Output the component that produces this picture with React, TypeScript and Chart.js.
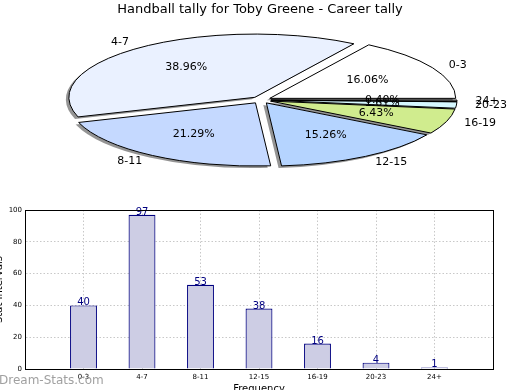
import React, { useEffect, useRef } from "react";
import { Chart, registerables } from "chart.js";

Chart.register(...registerables);

const categories = ["0-3", "4-7", "8-11", "12-15", "16-19", "20-23", "24+"];
const counts = [40, 97, 53, 38, 16, 4, 1];
const yTickValues = [0, 20, 40, 60, 80, 100];
const pieColors = ["#ffffff", "#eaf1ff", "#c5d9ff", "#b5d4ff", "#d0ec8e", "#d6f8ff", "#9a9a9a"];
const chartTitle = "Handball tally for Toby Greene - Career tally";
const xTitle = "Frequency";
const yTitle = "Stat Intervals";
const watermark = "Dream-Stats.com";

const FONT = "DejaVu Sans";
Chart.defaults.font.family = FONT;

// pie geometry (ellipse squash)
const PIE_RADIUS = 186;
const PIE_SQUASH = 0.34;
const PIE_CX = 261;
const PIE_CY = 100;
const EXPLODE = 10;

export default function App() {
  const pieRef = useRef<HTMLCanvasElement | null>(null);
  const barRef = useRef<HTMLCanvasElement | null>(null);

  useEffect(() => {
    const total = counts.reduce((a, b) => a + b, 0);
    const pieLabels = [...categories].reverse();
    const pieData = [...counts].reverse();
    const pieBg = [...pieColors].reverse();

    const mapPt = (chart: any, x: number, y: number) => {
      const ca = chart.chartArea;
      const cx = (ca.left + ca.right) / 2;
      const cy = (ca.top + ca.bottom) / 2;
      return [PIE_CX + (x - cx), PIE_CY + (y - cy) * PIE_SQUASH];
    };

    const piePlugin = {
      id: "pieSquash",
      afterDatasetsUpdate(chart: any) {
        const meta = chart.getDatasetMeta(0);
        meta.data.forEach((el: any) => {
          const mid = (el.startAngle + el.endAngle) / 2;
          el.x += Math.cos(mid) * EXPLODE;
          el.y += Math.sin(mid) * EXPLODE;
        });
      },
      beforeDatasetsDraw(chart: any) {
        const ctx = chart.ctx;
        const ca = chart.chartArea;
        const cx = (ca.left + ca.right) / 2;
        const cy = (ca.top + ca.bottom) / 2;
        ctx.save();
        ctx.translate(PIE_CX, PIE_CY);
        ctx.scale(1, PIE_SQUASH);
        ctx.translate(-cx, -cy);
        ctx.shadowColor = "rgba(0,0,0,0.42)";
        ctx.shadowOffsetX = -3;
        ctx.shadowOffsetY = 2;
        ctx.shadowBlur = 0;
      },
      afterDatasetsDraw(chart: any) {
        const ctx = chart.ctx;
        ctx.restore();
        const meta = chart.getDatasetMeta(0);
        const ca = chart.chartArea;
        const cx = (ca.left + ca.right) / 2;
        const cy = (ca.top + ca.bottom) / 2;
        ctx.save();
        ctx.strokeStyle = "#000";
        ctx.lineWidth = 1;
        meta.data.forEach((el: any) => {
          const [X, Y] = mapPt(chart, el.x, el.y);
          ctx.beginPath();
          ctx.moveTo(X, Y);
          ctx.ellipse(X, Y, el.outerRadius, el.outerRadius * PIE_SQUASH, 0, el.startAngle, el.endAngle);
          ctx.closePath();
          ctx.stroke();
        });
        ctx.fillStyle = "#000";
        ctx.font = `11px "${FONT}"`;
        ctx.textBaseline = "middle";
        meta.data.forEach((el: any, i: number) => {
          const mid = (el.startAngle + el.endAngle) / 2;
          const c = Math.cos(mid);
          const s = Math.sin(mid);
          const lr = EXPLODE + 1.1 * el.outerRadius;
          const [lx, ly] = mapPt(chart, cx + c * lr, cy + s * lr);
          ctx.textAlign = c > 0 ? "left" : "right";
          ctx.fillText(pieLabels[i], lx, ly);
          const pr = EXPLODE + 0.6 * el.outerRadius;
          const [px, py] = mapPt(chart, cx + c * pr, cy + s * pr);
          ctx.textAlign = "center";
          ctx.fillText(((pieData[i] / total) * 100).toFixed(2) + "%", px, py);
        });
        ctx.restore();
      },
    };

    const pie = new Chart(pieRef.current as HTMLCanvasElement, {
      type: "pie",
      data: {
        labels: pieLabels,
        datasets: [
          {
            data: pieData,
            backgroundColor: pieBg,
            borderWidth: 0,
            radius: PIE_RADIUS,
          } as any,
        ],
      },
      options: {
        animation: false,
        responsive: false,
        events: [],
        rotation: 90,
        plugins: {
          legend: { display: false },
          tooltip: { enabled: false },
          title: {
            display: true,
            text: chartTitle,
            color: "#000",
            font: { size: 13, weight: "normal", family: FONT },
            padding: { top: 2, bottom: 4 },
          },
        },
      } as any,
      plugins: [piePlugin],
    });

    const barPlugin = {
      id: "barExtras",
      afterDatasetsDraw(chart: any) {
        const ctx = chart.ctx;
        const meta = chart.getDatasetMeta(0);
        ctx.save();
        ctx.fillStyle = "#000080";
        ctx.font = `10px "${FONT}"`;
        ctx.textAlign = "center";
        ctx.textBaseline = "alphabetic";
        meta.data.forEach((el: any, i: number) => {
          ctx.fillText(String(counts[i]), el.x, el.y);
        });
        ctx.restore();
      },
      afterDraw(chart: any) {
        const ctx = chart.ctx;
        const ca = chart.chartArea;
        ctx.save();
        ctx.strokeStyle = "#000";
        ctx.lineWidth = 1;
        ctx.strokeRect(Math.round(ca.left) + 0.5, Math.round(ca.top) + 0.5, Math.round(ca.right - ca.left), Math.round(ca.bottom - ca.top));
        ctx.fillStyle = "rgba(150,150,150,0.9)";
        ctx.font = `12px "${FONT}"`;
        ctx.textAlign = "left";
        ctx.textBaseline = "middle";
        ctx.fillText(watermark, 9, 381);
        ctx.restore();
      },
    };

    const bar = new Chart(barRef.current as HTMLCanvasElement, {
      type: "bar",
      data: {
        datasets: [
          {
            data: counts.map((v, i) => ({ x: i, y: v })),
            backgroundColor: "#cdcde4",
            borderColor: "#000080",
            borderWidth: 1.2,
            barPercentage: 0.46,
            categoryPercentage: 1,
          },
        ],
      },
      options: {
        animation: false,
        responsive: false,
        events: [],
        layout: { padding: { top: 210, right: 27, left: 0, bottom: 0 } },
        plugins: { legend: { display: false }, tooltip: { enabled: false } },
        scales: {
          x: {
            type: "linear",
            min: -1,
            max: 7,
            offset: false,
            z: 1,
            afterBuildTicks: (s: any) => {
              s.ticks = categories.map((_, i) => ({ value: i }));
            },
            afterFit: (s: any) => {
              s.height = 31;
            },
            ticks: {
              callback: (_v: any, i: number) => categories[i] ?? "",
              font: { size: 7, family: FONT },
              color: "#000",
              padding: 4,
              maxRotation: 0,
              autoSkip: false,
            },
            grid: { color: "#c8c8c8", lineWidth: 1, drawTicks: false, offset: false },
            border: { color: "#000", dash: [1.5, 2] },
            title: {
              display: true,
              text: xTitle,
              color: "#000",
              font: { size: 10, family: FONT },
              padding: { top: 0, bottom: 5 },
            },
          },
          y: {
            min: 0,
            max: 100,
            z: 1,
            afterBuildTicks: (s: any) => {
              s.ticks = yTickValues.map((v) => ({ value: v }));
            },
            afterFit: (s: any) => {
              s.width = 35;
            },
            ticks: {
              font: { size: 7, family: FONT },
              color: "#000",
              padding: 3,
            },
            grid: { color: "#c8c8c8", lineWidth: 1, drawTicks: false },
            border: { color: "#000", dash: [1.5, 2] },
            title: {
              display: true,
              text: yTitle,
              color: "#000",
              font: { size: 10, family: FONT },
              padding: { top: 3, bottom: 0 },
            },
          },
        },
      } as any,
      plugins: [barPlugin],
    });

    return () => {
      pie.destroy();
      bar.destroy();
    };
  }, []);

  return (
    <div style={{ position: "relative", width: 520, height: 390, overflow: "hidden", background: "#fff" }}>
      <style>{`body{margin:0;overflow:hidden;}`}</style>
      <canvas
        ref={barRef}
        width={530}
        height={400}
        style={{ position: "absolute", left: -10, top: 0, width: 530, height: 400 }}
      />
      <canvas
        ref={pieRef}
        width={520}
        height={200}
        style={{ position: "absolute", left: 0, top: 0, width: 520, height: 200 }}
      />
    </div>
  );
}
